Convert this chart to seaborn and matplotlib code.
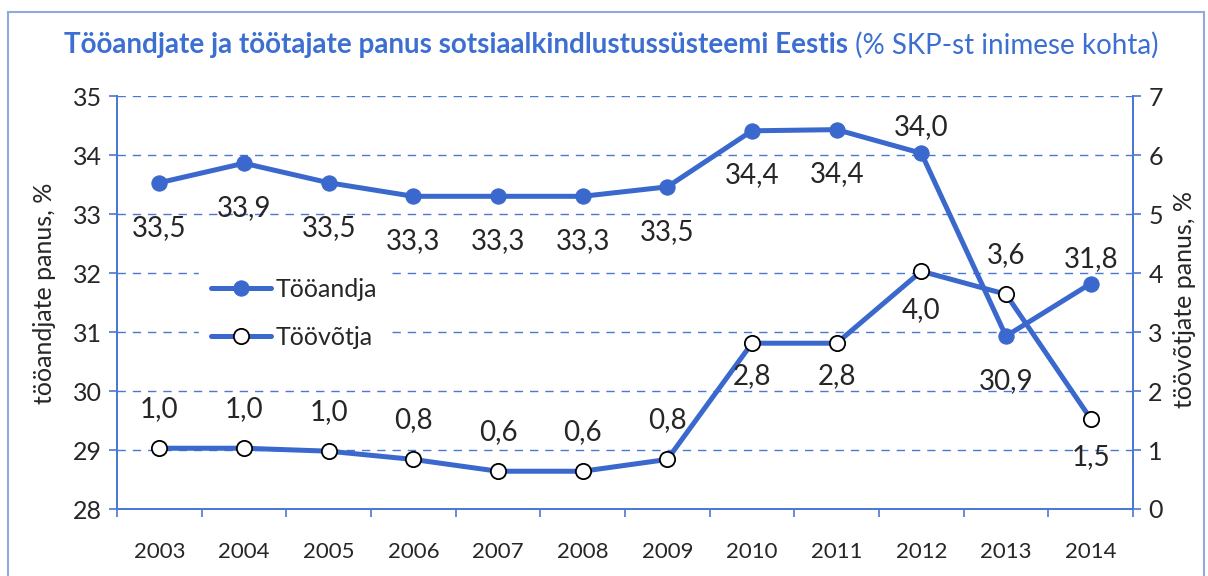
import pandas as pd
import seaborn as sns
import matplotlib.pyplot as plt
from matplotlib.patches import Rectangle

years = [2003, 2004, 2005, 2006, 2007, 2008, 2009, 2010, 2011, 2012, 2013, 2014]
employer = [33.53, 33.86, 33.53, 33.30, 33.30, 33.30, 33.46, 34.41, 34.43, 34.03, 30.93, 31.82]
employee = [1.03, 1.03, 0.98, 0.84, 0.64, 0.64, 0.84, 2.81, 2.81, 4.03, 3.64, 1.53]

title_bold = "Tööandjate ja töötajate panus sotsiaalkindlustussüsteemi Eestis"
title_rest = " (% SKP-st inimese kohta)"

# label offsets in pixels (up is positive)
employer_off = [-45, -45, -45, -45, -45, -45, -45, -44, -44, 26, -45, 25]
employee_off = [39, 39, 39, 39, 39, 39, 39, -33, -33, -39, 39, -38]

df = pd.DataFrame({"year": years, "employer": employer, "employee": employee})

sns.set_theme(style="white")
plt.rcParams["font.family"] = ["Lato", "DejaVu Sans"]

LINE = "#3A68CC"
AXC = "#4A78D4"

fig = plt.figure(figsize=(12.08, 5.76), dpi=100)
ax = fig.add_axes([117 / 1208, 1 - 509 / 576, 1016 / 1208, 413 / 576])
ax.set_facecolor("none")
ax2 = ax.twinx()

sns.lineplot(data=df, x="year", y="employer", ax=ax, color=LINE, linewidth=3.6,
             marker="o", markersize=11, markerfacecolor=LINE, markeredgecolor=LINE,
             label="Tööandja", legend=False)
sns.lineplot(data=df, x="year", y="employee", ax=ax2, color=LINE, linewidth=3.6,
             marker="o", markersize=11, markerfacecolor="white", markeredgecolor="black",
             markeredgewidth=1.3, label="Töövõtja", legend=False)

ax.set_ylim(28, 35)
ax2.set_ylim(0, 7)
ax.set_xlim(2002.5, 2014.5)
ax.set_yticks(range(28, 36))
ax2.set_yticks(range(0, 8))
ax.set_xticks(years)
ax.set_xticks([y + 0.5 for y in [2002] + years], minor=True)
ax.set_xticklabels([str(y) for y in years], fontsize=16)
ax.tick_params(axis="x", which="major", length=0, pad=24)
ax.tick_params(axis="x", which="minor", length=6, width=1.2, color=AXC, direction="out", bottom=True)
ax.tick_params(axis="y", length=6, width=1.2, color=AXC, labelsize=18, left=True, pad=5)
ax2.tick_params(axis="y", length=6, width=1.2, color=AXC, labelsize=18, right=True, pad=5)

for y in range(29, 36):
    ax.axhline(y, color=AXC, lw=1, ls=(0, (6, 5)), zorder=0)

for a in (ax, ax2):
    a.set_xlabel("")
    a.set_ylabel("")
    for side in ("left", "bottom", "right"):
        a.spines[side].set_color(AXC)
        a.spines[side].set_linewidth(1.3)
    a.spines["top"].set_visible(False)
    a.grid(False)

for x, v, o in zip(years, employer, employer_off):
    ax.annotate(f"{v:.1f}".replace(".", ","), (x, v), xytext=(0, o), textcoords="offset pixels",
                ha="center", va="center", fontsize=20)
for x, v, o in zip(years, employee, employee_off):
    ax2.annotate(f"{v:.1f}".replace(".", ","), (x, v), xytext=(0, o), textcoords="offset pixels",
                 ha="center", va="center", fontsize=20)

fig.text(45 / 1208, 1 - 293 / 576, "tööandjate panus, %", rotation=90, ha="center", va="center", fontsize=18)
fig.text(1185 / 1208, 1 - 300 / 576, "töövõtjate panus, %", rotation=90, ha="center", va="center", fontsize=18)

h1, l1 = ax.get_legend_handles_labels()
h2, l2 = ax2.get_legend_handles_labels()
leg = ax2.legend(h1 + h2, l1 + l2, loc="upper left", bbox_to_anchor=(0.068, 0.62),
                 frameon=True, facecolor="white", edgecolor="white", framealpha=1,
                 fontsize=18, handlelength=2.4, handletextpad=0.2, labelspacing=1.0,
                 borderpad=0.5)

# title: bold part + regular part, centred as one line
t1 = fig.text(0, 1 - 45 / 576, title_bold, fontsize=20, fontweight="bold", color="#3C6FD1",
              va="center", ha="left")
t2 = fig.text(0, 1 - 45 / 576, title_rest, fontsize=20, color="#3C6FD1", va="center", ha="left")
fig.canvas.draw()
r = fig.canvas.get_renderer()
w1 = t1.get_window_extent(r).width
w2 = t2.get_window_extent(r).width
x0 = 611 - (w1 + w2) / 2
t1.set_x(x0 / 1208)
t2.set_x((x0 + w1) / 1208)

fig.patches.append(Rectangle((8 / 1208, -0.1), 1196 / 1208, 1.1 - 12 / 576, transform=fig.transFigure,
                             fill=False, edgecolor="#8FAADC", lw=1.5))

fig.savefig("out.png", dpi=100)
